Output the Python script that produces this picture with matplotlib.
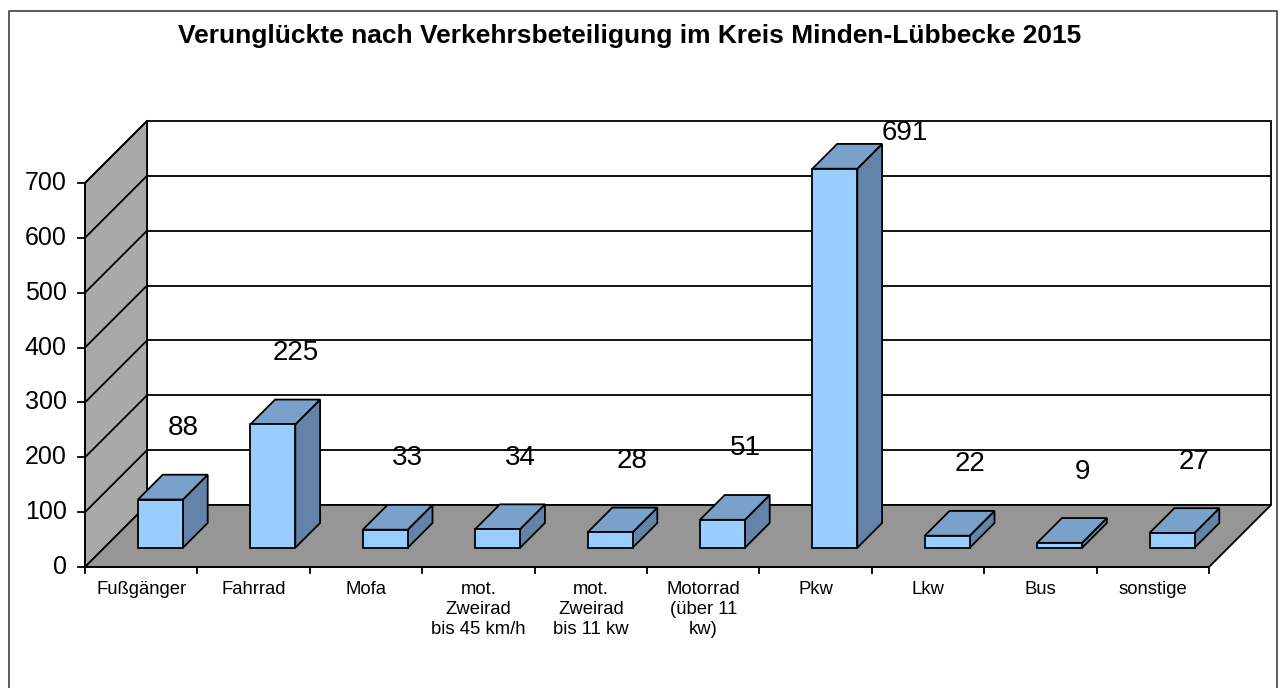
"""Verunglückte nach Verkehrsbeteiligung, Kreis Minden-Lübbecke 2015 -
Excel-style 3D column chart rebuilt with flat matplotlib patches."""
import matplotlib
matplotlib.use("Agg")
import matplotlib.pyplot as plt
from matplotlib.lines import Line2D
from matplotlib.patches import Polygon

plt.rcParams["font.family"] = ["Liberation Sans", "DejaVu Sans"]

TITLE = "Verunglückte nach Verkehrsbeteiligung im Kreis Minden-Lübbecke 2015"
categories = ["Fußgänger", "Fahrrad", "Mofa", "mot.\nZweirad\nbis 45 km/h",
              "mot.\nZweirad\nbis 11 kw", "Motorrad\n(über 11\nkw)", "Pkw",
              "Lkw", "Bus", "sonstige"]
values = [88, 225, 33, 34, 28, 51, 691, 22, 9, 27]
yticks = [0, 100, 200, 300, 400, 500, 600, 700]

W, H = 1282, 688
# front plane of the plot area, in pixels
PX0, PX1, PY0, PY1 = 85, 1209, 567, 183
n = len(categories)
ymax = yticks[-1]

fig = plt.figure(figsize=(W / 100, H / 100), dpi=100)
ax = fig.add_axes([PX0 / W, 1 - PY0 / H, (PX1 - PX0) / W, (PY0 - PY1) / H])
ax.set_xlim(-0.5, n - 0.5)
ax.set_ylim(0, ymax)
ax.axis("off")

# 45 degree depth of ~62 px, expressed in data units
DX = 62 / ((PX1 - PX0) / n)
DY = 62 / ((PY0 - PY1) / ymax)
T0, T1 = 0.31, 0.71          # bar front / back depth fraction
BW = 0.4                     # bar width (category units)
LW = 1.3


def P(x, y, t=0.0):
    return (x + t * DX, y + t * DY)


def poly(pts, fc, z, ec="black", lw=LW):
    ax.add_patch(Polygon(pts, closed=True, facecolor=fc, edgecolor=ec,
                         linewidth=lw, zorder=z, clip_on=False, joinstyle="miter"))


xl, xr = -0.5, n - 0.5
# back wall, side wall, floor
poly([P(xl, 0, 1), P(xr, 0, 1), P(xr, ymax, 1), P(xl, ymax, 1)], "white", 1)
poly([P(xl, 0), P(xl, 0, 1), P(xl, ymax, 1), P(xl, ymax)], "#a9a9a9", 1)
for v in yticks[1:-1]:
    ax.plot(*zip(P(xl, v, 1), P(xr, v, 1)), color="black", lw=LW, zorder=2,
            clip_on=False, solid_capstyle="butt")
for v in yticks[1:]:
    ax.plot(*zip(P(xl, v), P(xl, v, 1)), color="black", lw=LW, zorder=2,
            clip_on=False)
poly([P(xl, 0), P(xr, 0), P(xr, 0, 1), P(xl, 0, 1)], "#969696", 3)

# axes lines + ticks
ax.plot([xl, xl], [0, ymax], color="black", lw=LW, zorder=4, clip_on=False)
ax.plot([xl, xr], [0, 0], color="black", lw=LW, zorder=4, clip_on=False)
tick_x = 7 / ((PX1 - PX0) / n)
tick_y = 6 / ((PY0 - PY1) / ymax)
for v in yticks:
    ax.plot([xl - tick_x, xl], [v, v], color="black", lw=LW, zorder=4, clip_on=False)
    ax.text(xl - 2.6 * tick_x, v, str(v), ha="right", va="center",
            fontsize=18, color="black")
for k in range(n + 1):
    ax.plot([xl + k, xl + k], [0, -tick_y], color="black", lw=LW, zorder=4,
            clip_on=False)
for i, lab in enumerate(categories):
    ax.text(i, -2.3 * tick_y, lab, ha="center", va="top", fontsize=13.3,
            linespacing=1.23, multialignment="center")

# bars
top_limit = ymax + DY
for i, v in enumerate(values):
    a, b = i - BW / 2, i + BW / 2
    front = [P(a, 0, T0), P(b, 0, T0), P(b, v, T0), P(a, v, T0)]
    side = [P(b, 0, T0), P(b, 0, T1), P(b, v, T1), P(b, v, T0)]
    top = [P(a, v, T0), P(b, v, T0), P(b, v, T1), P(a, v, T1)]
    z = 5 + i
    poly(side, "#6383a8", z)
    poly(top, "#7aa1c9", z)
    poly(front, "#99ccff", z)

    ly = v + T0 * DY + 130
    lx = b + T0 * DX
    if ly > top_limit - 22:           # no room above: put it beside the top
        ly = top_limit - 22
        lx = b + T1 * DX + 0.2
    ax.text(lx, ly, str(v), ha="center", va="center", fontsize=20, zorder=20)

fig.text(630 / W, 1 - 43 / H, TITLE, ha="center", va="baseline",
         fontsize=19, fontweight="bold")

# chart-area border (open at the bottom edge of the picture)
fig.add_artist(Line2D([9 / W, 9 / W, 1277 / W, 1277 / W],
                      [0, 1 - 11 / H, 1 - 11 / H, 0],
                      transform=fig.transFigure, color="#404040", lw=1.2))

fig.savefig("out.png", dpi=100)
